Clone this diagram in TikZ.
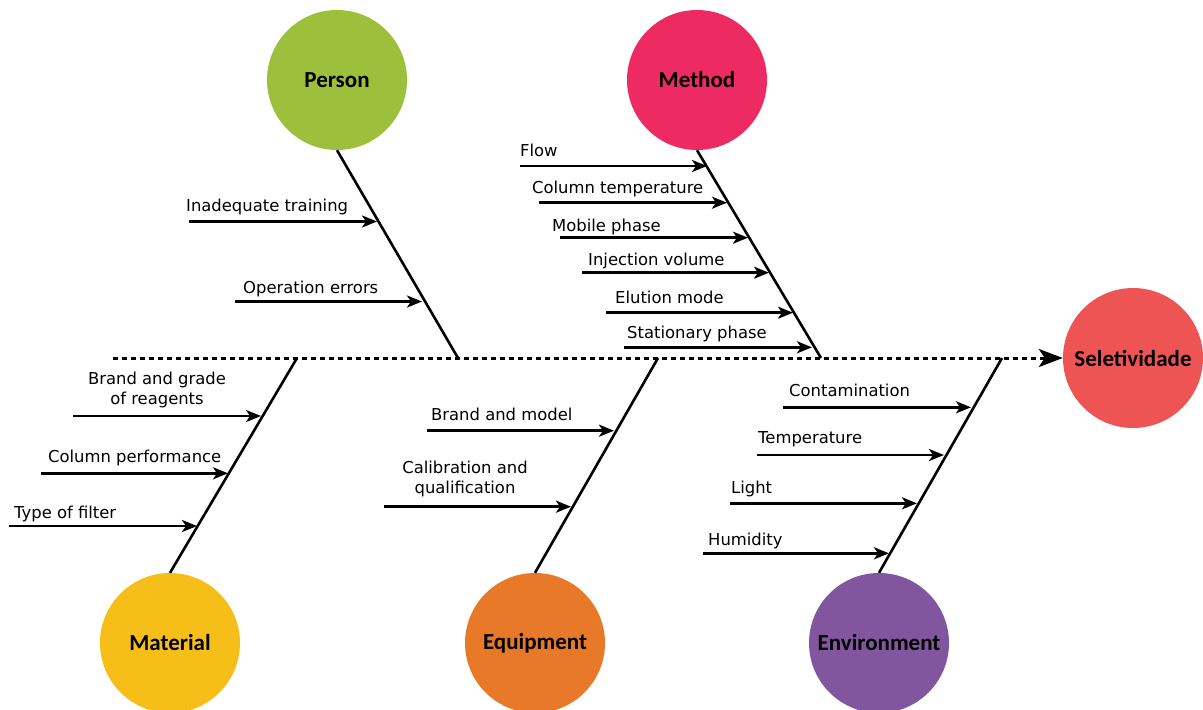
\documentclass[tikz,border=0pt]{standalone}
\usepackage{fontspec}
\setmainfont{DejaVu Sans}
\newfontfamily\catfont{Carlito}
\usetikzlibrary{arrows.meta}

\definecolor{personc}{RGB}{157,192,60}
\definecolor{methodc}{RGB}{238,42,99}
\definecolor{materialc}{RGB}{245,190,25}
\definecolor{equipc}{RGB}{232,121,40}
\definecolor{envc}{RGB}{130,86,158}
\definecolor{effectc}{RGB}{239,84,85}

\tikzset{
  cat/.style={circle,minimum size=140pt,inner sep=0pt,
    font=\catfont\bfseries\fontsize{23}{27}\selectfont},
  bone/.style={line width=2.6pt},
  cause/.style={line width=2.5pt,-{Stealth[length=15pt,width=12pt,inset=4pt]}},
  spine/.style={line width=3pt,dash pattern=on 5pt off 4pt,
    -{Stealth[length=24pt,width=18pt,inset=6pt]}},
  lbl/.style={anchor=base west,inner sep=0pt},
  lbltwo/.style={anchor=base,align=center,inner sep=0pt},
}

\begin{document}
\begin{tikzpicture}[x=1pt,y=-1pt,font=\fontsize{16.4}{19.5}\selectfont]
  \useasboundingbox (0,0) rectangle (1203,710);

  \node[cat,fill=personc] (person) at (337,80) {Person};
  \node[cat,fill=methodc] (method) at (697,80) {Method};
  \node[cat,fill=materialc] (material) at (170,643) {Material};
  \node[cat,fill=equipc] (equip) at (535,643) {Equipment};
  \node[cat,fill=envc] (env) at (879,643) {Environment};
  \node[cat,fill=effectc] (effect) at (1133,358) {Seletividade};

  % spine and bones
  \coordinate (tail) at (113,358);
  \draw[spine] (tail) -- (effect);

  \foreach \n/\x in {person/458,method/821,material/297,equip/658,env/1002}
    \coordinate (\n-j) at (\x,358);
  \draw[bone] (person.south) -- (person-j);
  \draw[bone] (method.south) -- (method-j);
  \draw[bone] (material.north) -- (material-j);
  \draw[bone] (equip.north) -- (equip-j);
  \draw[bone] (env.north) -- (env-j);

  % causes
  \foreach \n/\xs/\xe/\y in {train/189/377/221.5, operr/235/422/301.5,
    flow/520/707/166, coltemp/539/727/202.7, mobile/560/748/237.7,
    inject/582/769/272.7, elution/606/793/312.7, stat/624/812/347.3,
    reag/73/261/416, colperf/41/228/473.3, filter/9/197/526,
    model/427/614/430.7, calib/384/571/506.7,
    contam/783/971/407.3, temp/757/944/455, light/730/917/503.3,
    humid/703/889/553.3}
  {
    \coordinate (\n-s) at (\xs,\y);
    \coordinate (\n-e) at (\xe,\y);
    \draw[cause] (\n-s) -- (\n-e);
  }

  \node[lbl] (train-l) at (186,211) {Inadequate training};
  \node[lbl] (operr-l) at (243,293) {Operation errors};
  \node[lbl] (flow-l) at (520,156) {Flow};
  \node[lbl] (coltemp-l) at (532,193) {Column temperature};
  \node[lbl] (mobile-l) at (552,231) {Mobile phase};
  \node[lbl] (inject-l) at (588,265) {Injection volume};
  \node[lbl] (elution-l) at (615,303) {Elution mode};
  \node[lbl] (stat-l) at (627,338) {Stationary phase};
  \node[lbltwo] (reag-l) at (157,404) {Brand and grade\\of reagents};
  \node[lbl] (colperf-l) at (48,462) {Column performance};
  \node[lbl] (filter-l) at (14,518) {Type of filter};
  \node[lbl] (model-l) at (431,420) {Brand and model};
  \node[lbltwo] (calib-l) at (465,493) {Calibration and\\qualification};
  \node[lbl] (contam-l) at (789,396) {Contamination};
  \node[lbl] (temp-l) at (758,443) {Temperature};
  \node[lbl] (light-l) at (731,493) {Light};
  \node[lbl] (humid-l) at (708,545) {Humidity};
\end{tikzpicture}
\end{document}
